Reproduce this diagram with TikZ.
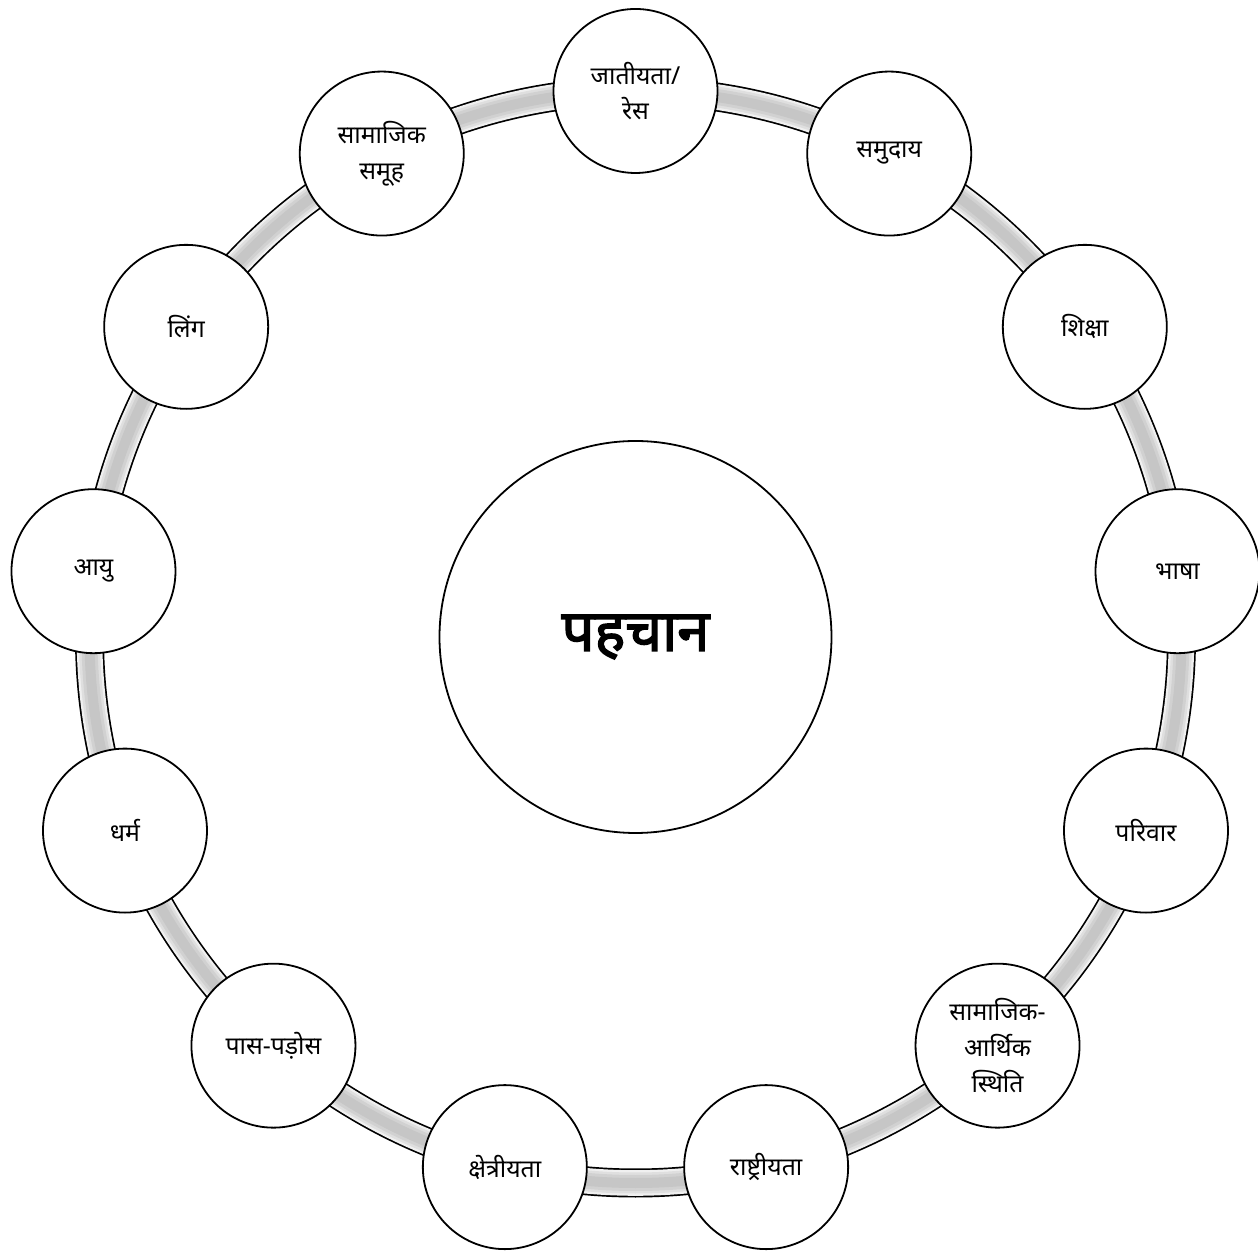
\documentclass[tikz,border=0pt]{standalone}
\usepackage{fontspec}
\newfontfamily\hindi[Script=Devanagari]{Noto Sans}
\newfontfamily\hindibold[Script=Devanagari,FakeBold=2.5]{Noto Sans}
\begin{document}
\begin{tikzpicture}[
    topic/.style={circle,draw,line width=0.9pt,fill=white,minimum size=82pt,inner sep=0pt,align=center,
      font=\hindi\fontsize{12.4}{17.8}\selectfont},
    core/.style={circle,draw,line width=0.9pt,fill=white,minimum size=196pt,
      font=\hindibold\fontsize{29}{32}\selectfont}]
  \useasboundingbox (-317.75pt,-307pt) rectangle (311.25pt,318.5pt);
  \node[core] (core) at (0,0) {पहचान};
  % the ring behind the outer circles
  \foreach \w/\c in {14.5/black,12.8/gray!12,10.5/gray!25,8/gray!36,5/gray!45}
    \draw[line width=\w pt,\c] (core.center) circle (273pt);
  \foreach \lbl [count=\i] in {{जातीयता/\\रेस},समुदाय,शिक्षा,भाषा,परिवार,{सामाजिक-\\आर्थिक\\स्थिति},
      राष्ट्रीयता,क्षेत्रीयता,पास-पड़ोस,धर्म,आयु,लिंग,{सामाजिक\\समूह}}
    \node[topic] (t\i) at ({90-(\i-1)*360/13}:273pt) {\lbl};
\end{tikzpicture}
\end{document}
